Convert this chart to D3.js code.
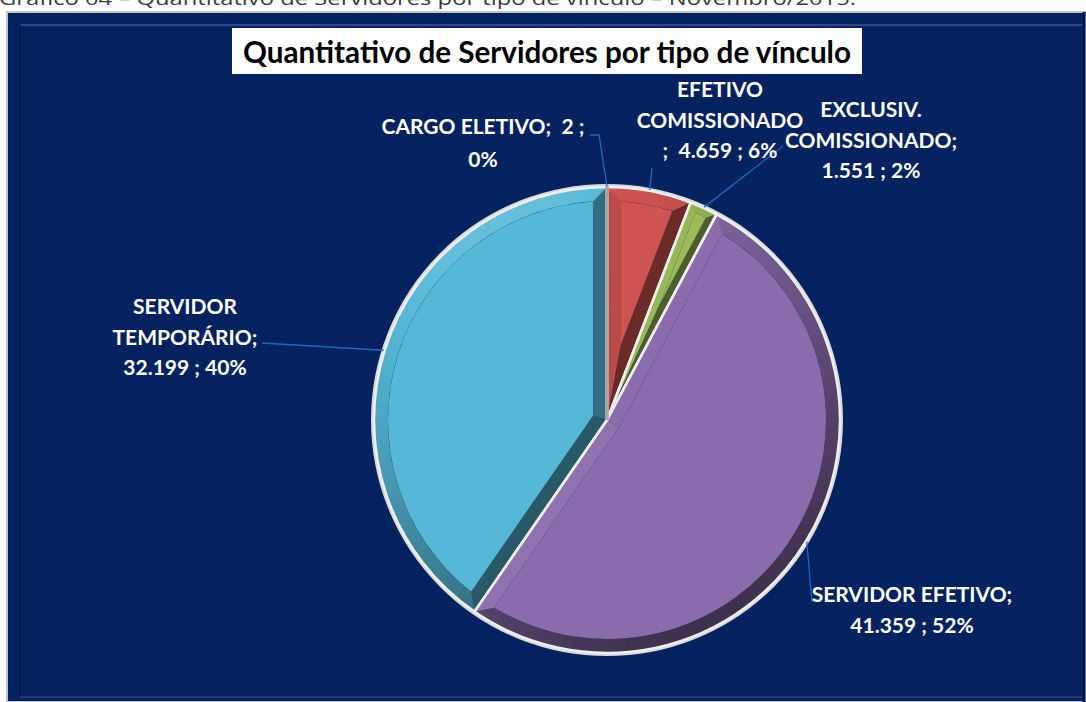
<!DOCTYPE html>
<html>
<head>
<meta charset="utf-8">
<script src="https://cdn.jsdelivr.net/npm/d3@7/dist/d3.min.js"></script>
<style>
  html, body { margin: 0; padding: 0; background: #fff; }
  svg { display: block; }
</style>
</head>
<body>
<svg id="chart" width="1086" height="702"></svg>
<script>
    'use strict';

    var caption = 'Gráfico 04 – Quantitativo de Servidores por tipo de vínculo – Novembro/2015.';
    var title = 'Quantitativo de Servidores por tipo de vínculo';

    var categories = ['CARGO ELETIVO', 'EFETIVO\nCOMISSIONADO', 'EXCLUSIV.\nCOMISSIONADO', 'SERVIDOR EFETIVO', 'SERVIDOR\nTEMPORÁRIO'];
    var values = [2, 4659, 1551, 41359, 32199];
    var colors = ['#a6a6a6', '#cf5350', '#9bbb59', '#8a6cad', '#55b8d6'];

    // where each label sits and how its text wraps
    var labelLayout = [
        {x: 483, y: 134, dy: 33, wrap: 'pct', lx: 590, ly: 135, elbow: 599},
        {x: 720, y: 97, dy: 30.5, wrap: 'before', lx: 652, ly: 168},
        {x: 871, y: 117, dy: 30.5, wrap: 'name', lx: 783, ly: 146},
        {x: 912, y: 602, dy: 31, wrap: 'name', lx: 812, ly: 602},
        {x: 185, y: 314, dy: 30.5, wrap: 'name', lx: 262, ly: 343}
    ];

    var W = 1086, H = 702;
    var CX = 607, CY = 420, R = 233, BEVEL = 14;
    var NAVY = '#03225f';
    var LIGHT = [-0.5, -0.866];

    var svg = d3.select('#chart');
    var total = d3.sum(values);
    var fmtNum = d3.formatLocale({decimal: ',', thousands: '.', grouping: [3], currency: ['R$', '']}).format(',d');
    var fmtPct = d3.format('.0%');

    function pt(a, r) {
        return [r * Math.sin(a), -r * Math.cos(a)];
    }

    function shade(base, normal) {
        var dot = normal[0] * LIGHT[0] + normal[1] * LIGHT[1];
        var f = 0.45 + 0.6 * (dot + 1) / 2;
        var c = d3.rgb(base);
        if (f > 1) {
            return d3.interpolateRgb(base, '#ffffff')((f - 1) * 2);
        }
        return d3.rgb(c.r * f, c.g * f, c.b * f).formatHex();
    }

    function poly(points) {
        var p = d3.path();
        points.forEach(function (q, i) {
            if (i) { p.lineTo(q[0], q[1]); } else { p.moveTo(q[0], q[1]); }
        });
        p.closePath();
        return p.toString();
    }

    // chart frame
    svg.append('text')
        .attr('x', -1).attr('y', 5)
        .attr('font-family', 'Open Sans, sans-serif')
        .attr('font-size', 19)
        .attr('fill', '#3b3b3b')
        .attr('textLength', 857)
        .attr('lengthAdjust', 'spacingAndGlyphs')
        .text(caption);

    svg.append('rect')
        .attr('x', 7).attr('y', 12).attr('width', W - 7).attr('height', H - 12)
        .attr('fill', NAVY)
        .attr('stroke', '#c4c4c4').attr('stroke-width', 2);
    svg.append('line').attr('x1', 20).attr('y1', 25).attr('x2', 1082).attr('y2', 25)
        .attr('stroke', '#2d4a86').attr('stroke-width', 2);
    svg.append('line').attr('x1', 20).attr('y1', 25).attr('x2', 20).attr('y2', 697)
        .attr('stroke', '#011a4a').attr('stroke-width', 2);
    svg.append('line').attr('x1', 20).attr('y1', 697).attr('x2', 1082).attr('y2', 697)
        .attr('stroke', '#1d3a74').attr('stroke-width', 2);
    svg.append('line').attr('x1', 1084).attr('y1', 12).attr('x2', 1084).attr('y2', H)
        .attr('stroke', '#011640').attr('stroke-width', 3);

    // title box
    svg.append('rect')
        .attr('x', 232).attr('y', 28).attr('width', 630).attr('height', 46)
        .attr('fill', '#ffffff');
    svg.append('text')
        .attr('x', 547).attr('y', 63)
        .attr('text-anchor', 'middle')
        .attr('font-family', 'Lato, sans-serif')
        .attr('font-weight', 'bold')
        .attr('font-size', 31)
        .attr('fill', '#000')
        .attr('textLength', 608)
        .attr('lengthAdjust', 'spacingAndGlyphs')
        .text(title);

    // pie
    var pie = d3.pie().sort(null).value(function (d) { return d; });
    var arcs = pie(values);
    var outerArc = d3.arc().innerRadius(0).outerRadius(R);

    var pieGroup = svg.append('g').attr('transform', 'translate(' + CX + ',' + CY + ')');

    pieGroup.append('circle').attr('r', R + 1.5)
        .attr('fill', 'none').attr('stroke', '#d9d9d9').attr('stroke-width', 3);

    arcs.forEach(function (d, i) {
        var g = pieGroup.append('g');
        var a0 = d.startAngle, a1 = d.endAngle, th = a1 - a0;
        var color = colors[i];
        if (th < 0.02) {
            return;
        }
        // narrow slices get a thinner bevel so the face does not flip
        var bev = Math.min(BEVEL, R * Math.sin(Math.min(th, Math.PI) / 2) * 0.55);
        var rf = R - bev;
        var delta = Math.asin(bev / rf);
        var mid = (a0 + a1) / 2;
        var apex = pt(mid, bev / Math.sin(th / 2));
        var rimArc = d3.arc().innerRadius(rf).outerRadius(R);

        // rim of the bevel, shaded along its length
        var n = Math.ceil(th / (2 * Math.PI / 180));
        d3.range(n).forEach(function (k) {
            var s = a0 + th * k / n, e = a0 + th * (k + 1) / n;
            var m = (s + e) / 2;
            g.append('path')
                .attr('d', rimArc({startAngle: s, endAngle: Math.min(e + 0.004, a1)}))
                .attr('fill', shade(color, [Math.sin(m), -Math.cos(m)]));
        });

        // radial sides of the bevel
        g.append('path')
            .attr('d', poly([[0, 0], pt(a0, R), pt(a0 + delta, rf), apex]))
            .attr('fill', shade(color, [-Math.cos(a0), -Math.sin(a0)]));
        g.append('path')
            .attr('d', poly([[0, 0], pt(a1, R), pt(a1 - delta, rf), apex]))
            .attr('fill', shade(color, [Math.cos(a1), Math.sin(a1)]));

        // flat top face
        var face = d3.path();
        var c0 = pt(a0 + delta, rf);
        face.moveTo(apex[0], apex[1]);
        face.lineTo(c0[0], c0[1]);
        face.arc(0, 0, rf, a0 + delta - Math.PI / 2, a1 - delta - Math.PI / 2);
        face.closePath();
        g.append('path').attr('d', face.toString()).attr('fill', color);
    });

    // slice separators
    pieGroup.selectAll('path.edge')
        .data(arcs.slice(1))
        .enter()
        .append('path')
        .attr('class', 'edge')
        .attr('d', outerArc)
        .attr('fill', 'none')
        .attr('stroke', '#eeeeee')
        .attr('stroke-width', 2.5)
        .attr('stroke-linejoin', 'round');

    // the tiny slice shows as a grey sliver
    var tiny = arcs[0];
    var tipA = pt(tiny.startAngle, R), tipB = pt(tiny.endAngle, R);
    pieGroup.append('path')
        .attr('d', poly([[0, 0], tipA, tipB]))
        .attr('fill', colors[0])
        .attr('stroke', colors[0])
        .attr('stroke-width', 3.5);

    // labels and leader lines
    function labelLines(i) {
        var names = categories[i].split('\n');
        var val = fmtNum(values[i]);
        var pct = fmtPct(values[i] / total);
        var wrap = labelLayout[i].wrap;
        if (wrap === 'pct') {
            return [names.join(' ') + ';  ' + val + ' ;', pct];
        }
        if (wrap === 'before') {
            return names.concat([';  ' + val + ' ; ' + pct]);
        }
        names[names.length - 1] += ';';
        return names.concat([val + ' ; ' + pct]);
    }

    var leaders = svg.append('g');
    var labels = svg.append('g')
        .attr('font-family', 'Lato, sans-serif')
        .attr('font-weight', 'bold')
        .attr('font-size', 21)
        .attr('fill', '#ffffff')
        .attr('text-anchor', 'middle');

    arcs.forEach(function (d, i) {
        var lay = labelLayout[i];
        var mid = (d.startAngle + d.endAngle) / 2;
        var edge = pt(mid, R + 1);
        var pts = [[lay.lx, lay.ly]];
        if (lay.elbow) {
            pts.push([lay.elbow, lay.ly]);
        }
        pts.push([CX + edge[0], CY + edge[1]]);
        leaders.append('path')
            .attr('d', d3.line()(pts))
            .attr('fill', 'none')
            .attr('stroke', '#1f68c0')
            .attr('stroke-width', 1.3);

        labelLines(i).forEach(function (line, k) {
            labels.append('text')
                .attr('x', lay.x)
                .attr('y', lay.y + k * lay.dy)
                .style('white-space', 'pre')
                .text(line);
        });
    });
</script>
</body>
</html>
